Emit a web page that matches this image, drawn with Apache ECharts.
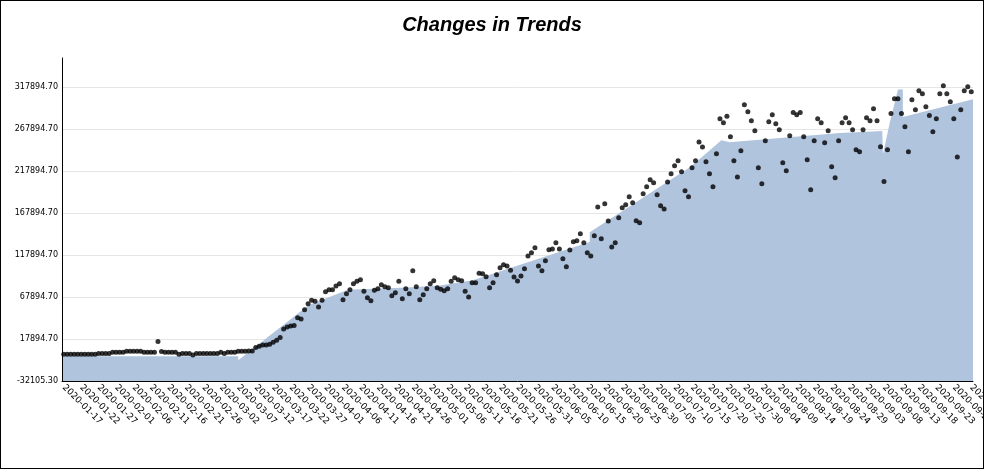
<!DOCTYPE html>
<html><head><meta charset="utf-8">
<script src="https://cdn.jsdelivr.net/npm/echarts@6/dist/echarts.min.js"></script>
<style>
html,body{margin:0;padding:0;background:#fff}
#wrap{position:relative;width:984px;height:469px}
#c{width:984px;height:469px}
#f{position:absolute;left:0;top:0;width:984px;height:469px;box-sizing:border-box;border:1px solid #000;pointer-events:none}
</style>
</head><body>
<div id="wrap"><div id="c"></div><div id="f"></div></div>
<script>
// ---- data ----
const startDate = '2020-01-17';
const dayCount = 261; // 2020-01-17 .. 2020-10-03
const dates = [];
(function(){const d=new Date(startDate+'T00:00:00Z');for(let i=0;i<dayCount;i++){dates.push(d.toISOString().slice(0,10));d.setUTCDate(d.getUTCDate()+1);}})();

const yMin = -32105.30;
const yMax = 352420;
const yStep = 50000;

// observed daily values (dots)
const observed = [
-300,-300,-300,-300,-300,-300,-300,-300,-300,-300,
500,500,500,500,2000,2000,2000,2000,3200,3200,3200,3200,3200,
2000,2000,2000,2000,14800,2900,2000,2000,2000,2000,-300,500,500,500,-1100,
500,500,500,500,500,500,500,2000,500,2000,2000,2000,
3200,3200,3200,3600,3600,7660,9200,10750,10750,11590,13970,16350,19560,29800,32180,33370,33850,
43330,41750,52860,60000,63970,62780,56030,63970,74290,76670,76670,81030,83810,64760,71910,76670,83810,86590,88570,74680,67140,63570,75870,77860,82620,80240,79050,69520,73100,86590,65950,77860,71910,99290,80240,64760,70720,77860,83810,87380,79050,77070,75480,77860,86590,90950,88570,87380,74680,67940,85000,85000,96110,95720,92140,79050,
85000,94530,102860,106430,104850,99690,91750,86990,92940,101670,116750,120720,126670,104850,99290,111190,124290,125080,132620,125080,113570,104050,123890,133810,135000,143340,132620,120720,116750,140960,175080,137380,179050,158420,127460,132620,162380,174290,177860,187380,180240,158810,156430,190960,199290,207620,204050,189770,176670,172700,204840,214770,224290,230240,217150,194530,187380,221910,230240,252420,246470,229050,214770,199290,238580,
280240,275480,283020,258810,230240,210800,242150,296910,288580,277860,265960,221910,202860,254050,276670,285000,274290,267150,227860,218340,260000,287390,285000,287390,258810,231430,195720,254050,280240,275480,251670,265960,223100,210000,254050,275480,281430,275480,
267150,243340,240960,267150,281430,277860,292150,277860,246910,205280,243340,286200,304050,304050,286200,270720,240960,302860,290960,313580,310000,294530,284000,264770,280240,310000,319530,310000,300480,280240,234450,290960,313580,318340,312390
];

// trend (area) vertices: position in day units along the axis, and value
const trendPos = [0, 50.5, 50.5, 70.6, 81.9, 98.8, 108.3, 117.7, 151.2, 151.2, 179.9, 185.6, 188.9, 191.3, 222.8, 235.0, 235.2, 237.1, 239.5, 240.9, 240.9, 261];
const trendVal = [-2700, -2700, -7460, 58000, 76470, 79090, 81470, 87780, 133370, 144920, 222300, 242540, 254450, 252070, 263140, 265520, 237420, 274330, 314810, 314810, 282190, 303260];

// ---- chart ----
const chart = echarts.init(document.getElementById('c'), null, {renderer:'canvas'});
chart.setOption({
  animation:false,
  backgroundColor:'#fff',
  title:{text:'Changes in Trends', left:'center', top:10,
    textStyle:{fontFamily:'Liberation Sans', fontSize:20, fontWeight:'bold', fontStyle:'italic', color:'#000'}},
  grid:{left:62, right:11, top:58, bottom:88, containLabel:false, outerBoundsMode:'none'},
  xAxis:[
    {type:'category', data:dates, boundaryGap:true, z:5,
     axisLine:{onZero:false, lineStyle:{color:'#000', width:1}}, axisTick:{show:false},
     axisLabel:{interval:4, rotate:-45, fontSize:9, fontFamily:'DejaVu Sans', color:'#000', margin:5},
     splitLine:{show:false}},
    {type:'value', min:0, max:dayCount, show:false, axisLine:{onZero:false}}
  ],
  yAxis:[
    {type:'value', min:yMin, max:yMax, interval:yStep,
     axisLine:{show:false}, axisTick:{show:false},
     axisLabel:{formatter:v=>v.toFixed(2), fontSize:8, fontFamily:'DejaVu Sans', color:'#000', margin:4, showMaxLabel:false},
     splitLine:{show:true, showMaxLine:false, lineStyle:{color:'#e6e6e6', width:1}}},
    {type:'value', min:yMin, max:yMax, interval:yStep, position:'left', z:5,
     axisLine:{show:true, onZero:false, lineStyle:{color:'#000', width:1}}, axisTick:{show:false},
     axisLabel:{show:false}, splitLine:{show:false}}
  ],
  series:[
    {type:'line', xAxisIndex:1, yAxisIndex:0, data:trendPos.map((p,i)=>[p,trendVal[i]]), symbol:'none', showSymbol:false,
     lineStyle:{width:0}, areaStyle:{color:'#B0C4DE', opacity:1, origin:'start'}, z:1, silent:true},
    {type:'scatter', xAxisIndex:0, yAxisIndex:0, data:observed, symbolSize:5, itemStyle:{color:'#000'}, z:3}
  ]
});
</script>
</body></html>
